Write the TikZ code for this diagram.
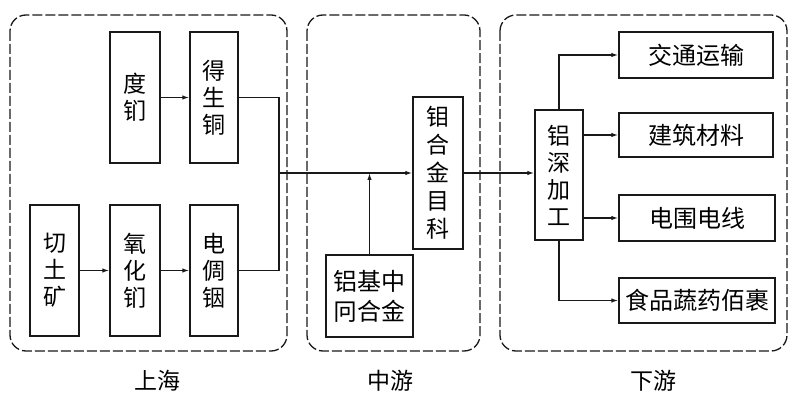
\documentclass[tikz,border=0pt]{standalone}
\usepackage{fontspec}
\newfontfamily\cjk{Noto Sans CJK SC}
\usetikzlibrary{arrows.meta}
\begin{document}
\begin{tikzpicture}[x=1pt,y=-1pt,
  every node/.style={inner sep=0pt},
  group/.style={draw=black!90,line width=1.3pt,rounded corners=16pt,dash pattern=on 10pt off 3pt},
  vbox/.style={draw=black!90,line width=1.5pt,align=center,font=\cjk\fontsize{23}{27}\selectfont},
  hbox/.style={draw=black!90,line width=1.5pt,align=center,font=\cjk\fontsize{24}{28}\selectfont},
  lab/.style={font=\cjk\fontsize{23}{26}\selectfont},
  conn/.style={draw=black!90,line width=1.3pt},
  arr/.style={conn,-{Latex[length=7pt,width=4.5pt]}}
]
\useasboundingbox (0,0) rectangle (801,403);
\fill[white] (0,0) rectangle (801,403);
% group frames
\draw[group] (10,15) rectangle (287,351);
\draw[group] (307,15) rectangle (480,351);
\draw[group] (500,15) rectangle (787,351);
\node[lab] (lup) at (157,381) {上海};
\node[lab] (lmid) at (390,381) {中游};
\node[lab] (ldown) at (653,381) {下游};
% upstream
\node[vbox,minimum width=50pt,minimum height=131pt] (b1) at (135,97.5) {度\\钔};
\node[vbox,minimum width=48pt,minimum height=131pt] (b2) at (214,97.5) {得\\生\\铜};
\node[vbox,minimum width=49pt,minimum height=131pt] (b3) at (54.5,270.5) {切\\土\\矿};
\node[vbox,minimum width=50pt,minimum height=131pt] (b4) at (135,270.5) {氧\\化\\钔};
\node[vbox,minimum width=48pt,minimum height=131pt] (b5) at (214,270.5) {电\\倜\\铟};
% midstream
\node[vbox,minimum width=50pt,minimum height=152pt,font=\cjk\fontsize{23}{28}\selectfont] (alloy) at (438,173) {钼\\合\\金\\目\\科};
\node[hbox,minimum width=87pt,minimum height=82pt,font=\cjk\fontsize{24}{30}\selectfont] (master) at (369.5,296) {铝基中\\冋合金};
% downstream
\node[vbox,minimum width=48pt,minimum height=130pt] (deep) at (559,175) {铝\\深\\加\\工};
\node[hbox,minimum width=154pt,minimum height=46pt] (t1) at (696,55) {交通运输};
\node[hbox,minimum width=154pt,minimum height=44pt] (t2) at (696,135) {建筑材料};
\node[hbox,minimum width=156pt,minimum height=46pt] (t3) at (697,218) {电围电线};
\node[hbox,minimum width=156pt,minimum height=45pt] (t4) at (697,300.5) {食品蔬药佰裹};
% connectors
\coordinate (j1) at (279,173);
\draw[arr] (b1.east) -- (b2.west);
\draw[arr] (b3.east) -- (b4.west);
\draw[arr] (b4.east) -- (b5.west);
\draw[conn] (b2.east) -| (j1);
\draw[conn] (b5.east) -| (j1);
\draw[arr] (j1) -- (alloy.west |- j1);
\draw[arr] (master.north) -- (master.north |- j1);
\draw[arr] (alloy.east |- j1) -- (deep.west |- j1);
\draw[arr] (deep.north) |- (t1.west);
\draw[arr] (deep.east |- t2.west) -- (t2.west);
\draw[arr] (deep.east |- t3.west) -- (t3.west);
\draw[arr] (deep.south) |- (t4.west);
\end{tikzpicture}
\end{document}
